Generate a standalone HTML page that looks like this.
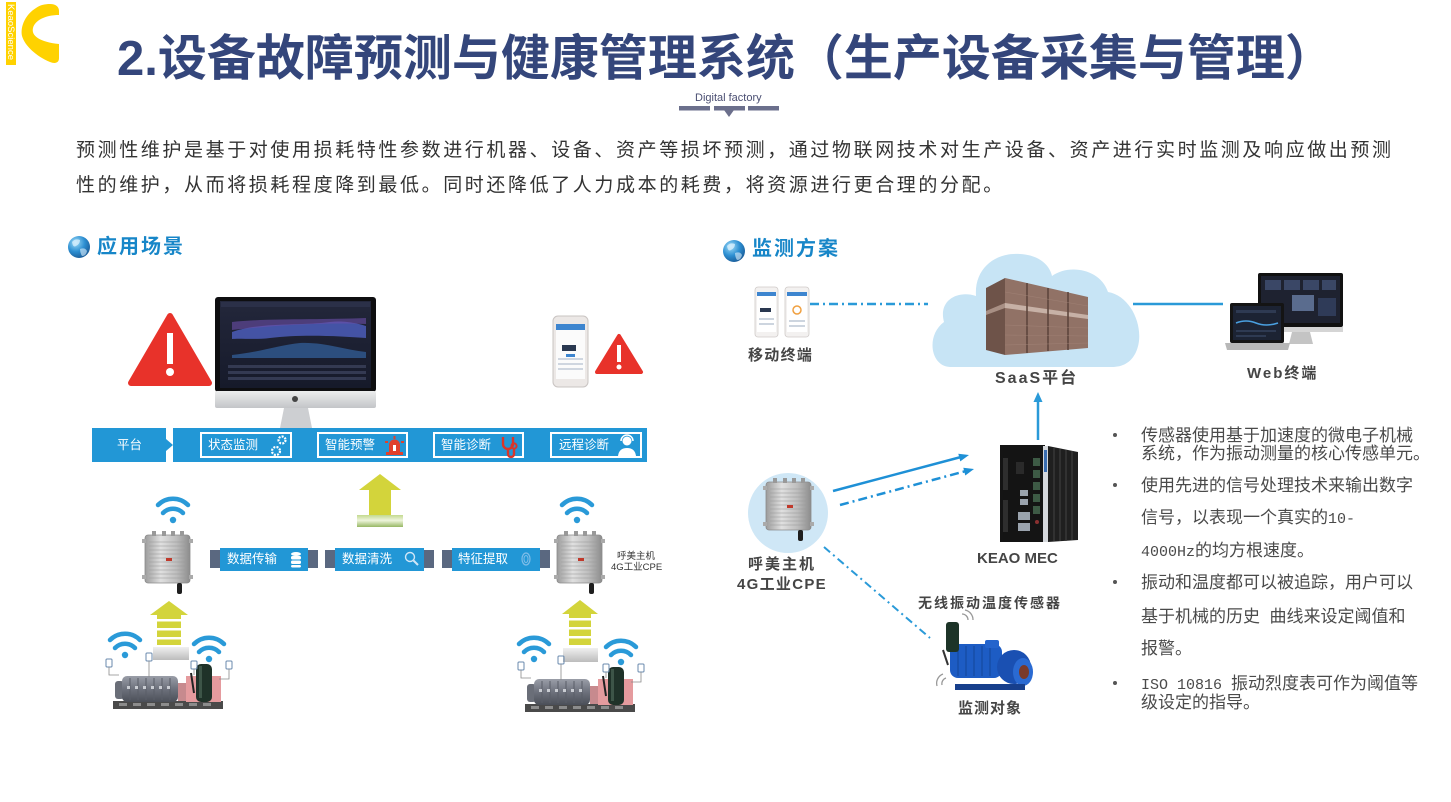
<!DOCTYPE html>
<html><head><meta charset="utf-8">
<style>
*{box-sizing:border-box}
body{margin:0;width:1451px;height:802px;background:#fff;position:relative;overflow:hidden;font-family:"Liberation Sans","Noto Sans CJK SC",sans-serif}
.t{position:absolute;white-space:nowrap;line-height:1}
.p{font-size:19px;letter-spacing:2.6px;color:#333;left:76px}
.h{font-size:20px;font-weight:700;color:#1786c8;letter-spacing:2px}
.w{color:#fff;font-size:12.5px}
.lb{font-weight:700;color:#454545}
.b{font-size:17px;color:#4a4a4a;left:1141px}
.m{font-family:"Liberation Mono",monospace;font-size:15px}
</style></head><body>

<svg width="1451" height="802" style="position:absolute;left:0;top:0">
<defs>
 <radialGradient id="gl" cx="0.35" cy="0.3" r="0.75"><stop offset="0" stop-color="#9fdcf8"/><stop offset="0.55" stop-color="#2d8fd2"/><stop offset="1" stop-color="#1a5c98"/></radialGradient>
 <linearGradient id="rg" x1="0" x2="1"><stop offset="0" stop-color="#9c9c9c"/><stop offset="0.35" stop-color="#e0e0e0"/><stop offset="0.7" stop-color="#bdbdbd"/><stop offset="1" stop-color="#8c8c8c"/></linearGradient>
 <linearGradient id="mg" x1="0" y1="0" x2="0" y2="1"><stop offset="0" stop-color="#9a9ea8"/><stop offset="0.5" stop-color="#6d717c"/><stop offset="1" stop-color="#4b4f58"/></linearGradient>
 <linearGradient id="cyl" x1="0" y1="0" x2="0" y2="1"><stop offset="0" stop-color="#c3d98f"/><stop offset="0.45" stop-color="#eef5dc"/><stop offset="1" stop-color="#98b865"/></linearGradient>
 <linearGradient id="gb" x1="0" y1="0" x2="0" y2="1"><stop offset="0" stop-color="#f0f0f0"/><stop offset="0.5" stop-color="#d6d6d6"/><stop offset="1" stop-color="#bcbcbc"/></linearGradient>
 <linearGradient id="chin" x1="0" y1="0" x2="0" y2="1"><stop offset="0" stop-color="#eceded"/><stop offset="1" stop-color="#c3c5c8"/></linearGradient>
 <linearGradient id="scr" x1="0" y1="0" x2="0" y2="1"><stop offset="0" stop-color="#23273b"/><stop offset="1" stop-color="#161a2a"/></linearGradient>
 <g id="globe"><circle r="11" fill="url(#gl)"/><path d="M-7,-5 q3,-4 8,-2 q0,4 -4,6 q-3,2 -4,-4z" fill="#dff2fd" opacity=".75"/><path d="M1,2 q5,-2 7,2 q-1,5 -5,5 q-2,-3 -2,-7z" fill="#dff2fd" opacity=".6"/></g>
 <g id="rtr">
  <rect x="1" y="4" width="45" height="48" rx="3" fill="url(#rg)" stroke="#8a8a8a" stroke-width="0.8"/>
  <g stroke="#9a9a9a" stroke-width="0.8" opacity="0.7">
   <line x1="5" y1="11" x2="42" y2="11"/><line x1="5" y1="15" x2="42" y2="15"/><line x1="5" y1="19" x2="42" y2="19"/><line x1="5" y1="23" x2="42" y2="23"/><line x1="5" y1="27" x2="42" y2="27"/><line x1="5" y1="31" x2="42" y2="31"/><line x1="5" y1="35" x2="42" y2="35"/><line x1="5" y1="39" x2="42" y2="39"/><line x1="5" y1="43" x2="42" y2="43"/><line x1="5" y1="47" x2="42" y2="47"/>
  </g>
  <rect x="8" y="0" width="4" height="5" fill="#999"/><rect x="18" y="0" width="4" height="5" fill="#999"/><rect x="27" y="0" width="4" height="5" fill="#999"/><rect x="36" y="0" width="4" height="5" fill="#999"/>
  <rect x="-2" y="8" width="4" height="4" fill="#aaa"/><rect x="45" y="8" width="4" height="4" fill="#aaa"/><rect x="-2" y="44" width="4" height="4" fill="#aaa"/><rect x="45" y="44" width="4" height="4" fill="#aaa"/>
  <rect x="22" y="27" width="6" height="3" fill="#c0392b"/>
  <rect x="33" y="52" width="5" height="11" rx="2" fill="#1e1e1e"/>
 </g>
 <g id="mach">
  <rect x="0" y="30" width="110" height="8" fill="#4a4a4a"/>
  <g fill="#8c8c8c"><rect x="6" y="32" width="8" height="3"/><rect x="20" y="32" width="8" height="3"/><rect x="34" y="32" width="8" height="3"/><rect x="48" y="32" width="8" height="3"/><rect x="62" y="32" width="8" height="3"/><rect x="76" y="32" width="8" height="3"/><rect x="90" y="32" width="8" height="3"/></g>
  <rect x="2" y="10" width="9" height="18" rx="3" fill="#6a6e78"/>
  <rect x="9" y="5" width="56" height="26" rx="5" fill="url(#mg)"/>
  <g stroke="#5a5e68" stroke-width="1"><line x1="17" y1="7" x2="17" y2="29"/><line x1="25" y1="7" x2="25" y2="29"/><line x1="33" y1="7" x2="33" y2="29"/><line x1="41" y1="7" x2="41" y2="29"/><line x1="49" y1="7" x2="49" y2="29"/><line x1="57" y1="7" x2="57" y2="29"/></g>
  <g fill="#c9ccd2"><rect x="14" y="15" width="3" height="3"/><rect x="22" y="15" width="3" height="3"/><rect x="30" y="15" width="3" height="3"/><rect x="38" y="15" width="3" height="3"/><rect x="46" y="15" width="3" height="3"/><rect x="54" y="15" width="3" height="3"/></g>
  <rect x="65" y="12" width="9" height="18" fill="#c78a8e"/>
  <rect x="73" y="5" width="35" height="26" fill="#e59b9e"/>
  <rect x="83" y="-7" width="16" height="38" rx="5" fill="#1f3229"/>
  <rect x="86" y="-5" width="3" height="32" fill="#3d5548"/>
  <line x1="78" y1="2" x2="81" y2="22" stroke="#222" stroke-width="2"/>
  <g fill="none" stroke="#6a8aae" stroke-width="1"><rect x="-7" y="-12" width="6" height="8" rx="1"/><rect x="33" y="-18" width="6" height="8" rx="1"/><rect x="78" y="-10" width="6" height="8" rx="1"/><rect x="113" y="-10" width="6" height="8" rx="1"/></g>
  <g fill="none" stroke="#8a8a8a" stroke-width="0.8"><path d="M-4,-4 v8 h10"/><path d="M36,-10 v16"/><path d="M81,-2 v6"/><path d="M116,-2 v10 h-10"/></g>
 </g>
</defs>

<!-- logo -->
<rect x="6" y="2" width="10" height="63" fill="#ffd200"/>
<text transform="translate(8,4) rotate(90)" font-size="9.5" fill="#fff" font-family="Liberation Sans">KeaoScience</text>
<path d="M50,4 C56,4 59,7 59,11 L59,15 C46,15 35,20 33,28 C31,36 40,42 59,44 L59,58 C59,63 55,64 50,62 C36,56 25,46 22,36 C20,26 26,14 36,8 C40,5 45,4 50,4 Z" fill="#ffd200"/>

<!-- digital factory bars -->
<rect x="679" y="106" width="31" height="4.5" fill="#6b6f8c"/>
<rect x="714" y="106" width="31" height="4.5" fill="#6b6f8c"/>
<rect x="748" y="106" width="31" height="4.5" fill="#6b6f8c"/>
<polygon points="724,110 734,110 729,117" fill="#6b6f8c"/>

<use href="#globe" x="79" y="247"/>
<use href="#globe" x="734" y="251"/>

<!-- ============ LEFT ============ -->
<path d="M170,316 L209,383 L131,383 Z" fill="#e8322a" stroke="#e8322a" stroke-width="6" stroke-linejoin="round"/>
<rect x="167" y="333" width="6" height="31" fill="#fff"/>
<circle cx="170" cy="372" r="4" fill="#fff"/>
<!-- monitor -->
<rect x="215" y="297" width="161" height="95" rx="3" fill="#0e0e10"/>
<rect x="220" y="301" width="151" height="87" fill="url(#scr)"/>
<rect x="221" y="302" width="149" height="5" fill="#2b3048"/>
<path d="M232,332 C260,322 300,326 330,322 C345,320 360,324 366,326 L366,338 C340,336 300,334 270,338 C255,340 240,338 232,339 Z" fill="#4b5cb8" opacity="0.85"/>
<path d="M232,322 C270,318 320,320 366,318 L366,324 C320,322 270,326 232,330 Z" fill="#6c4fa8" opacity="0.6"/>
<path d="M232,355 C260,352 280,345 300,343 C325,342 345,350 366,352 L366,358 L232,358 Z" fill="#2c4e7e"/>
<g fill="#343a52"><rect x="228" y="365" width="138" height="3"/><rect x="228" y="371" width="138" height="3"/><rect x="228" y="377" width="138" height="3"/></g>
<rect x="215" y="391" width="161" height="17" rx="2" fill="url(#chin)"/>
<circle cx="295" cy="399" r="3" fill="#444"/>
<polygon points="284,408 308,408 312,428 280,428" fill="#cdcfd2"/>
<!-- phone -->
<rect x="553" y="316" width="35" height="71" rx="5" fill="#ece8e6" stroke="#c9c4c2" stroke-width="1"/>
<rect x="556" y="324" width="29" height="55" fill="#fbfbfb"/>
<rect x="556" y="324" width="29" height="6" fill="#3d85cf"/>
<rect x="562" y="345" width="14" height="6" fill="#2a3850"/>
<g fill="#cfd6e0"><rect x="558" y="358" width="25" height="2"/><rect x="558" y="363" width="25" height="2"/><rect x="558" y="368" width="25" height="2"/></g>
<rect x="566" y="354" width="9" height="3" fill="#3d85cf"/>
<!-- small warning -->
<path d="M619,336 L641,372 L597,372 Z" fill="#e8322a" stroke="#e8322a" stroke-width="4" stroke-linejoin="round"/>
<rect x="617" y="345" width="4" height="17" fill="#fff"/>
<circle cx="619" cy="367" r="2.5" fill="#fff"/>

<!-- platform bar -->
<rect x="92" y="428" width="74" height="34" fill="#2297d6"/>
<polygon points="166,439 173,445 166,451" fill="#2297d6"/>
<rect x="173" y="428" width="474" height="34" fill="#2297d6"/>
<g fill="none" stroke="#fff" stroke-width="2">
 <rect x="201" y="433" width="90" height="24"/>
 <rect x="318" y="433" width="89" height="24"/>
 <rect x="434" y="433" width="89" height="24"/>
 <rect x="551" y="433" width="90" height="24"/>
</g>
<circle cx="282" cy="440" r="3.5" fill="none" stroke="#fff" stroke-width="2.2" stroke-dasharray="2 1.2"/>
<circle cx="276" cy="451" r="4" fill="none" stroke="#fff" stroke-width="2.2" stroke-dasharray="2 1.2"/>
<g fill="#e0402c"><rect x="386" y="452" width="17" height="3"/><path d="M389,452 v-7 a5.5,5.5 0 0 1 11,0 v7 z"/><rect x="393.5" y="436" width="2" height="3"/><rect x="385" y="441" width="3" height="2"/><rect x="401" y="441" width="3" height="2"/></g>
<rect x="393" y="445" width="3" height="6" fill="#fff"/>
<path d="M503,437 v7 a5,5 0 0 0 10,0 v-7 M508,449 v5 a3,3 0 0 0 6,0 v-6" fill="none" stroke="#d9362a" stroke-width="2.4"/>
<circle cx="514" cy="446" r="2.6" fill="none" stroke="#d9362a" stroke-width="2"/>
<circle cx="627" cy="441" r="4.5" fill="#fff"/>
<path d="M618,456 q1,-8 9,-8 q8,0 9,8 z" fill="#fff"/>
<path d="M621,441 a6,6 0 0 1 12,0" fill="none" stroke="#fff" stroke-width="1.5"/>

<!-- center yellow arrow -->
<polygon points="380,474 401,490 359,490" fill="#d3d43b"/>
<rect x="369" y="490" width="22" height="25" fill="#d3d43b"/>
<rect x="357" y="515" width="46" height="12" fill="url(#cyl)"/>

<!-- routers & wifi -->
<use href="#rtr" x="144" y="531"/>
<use href="#rtr" x="556" y="531"/>
<g fill="none" stroke="#2a9ad8" stroke-width="4.5" stroke-linecap="round">
 <path d="M163,513 a14,14 0 0 1 20,0"/><path d="M158,508 a21,21 0 0 1 30,0" transform="translate(0,-3)"/>
 <path d="M567,513 a14,14 0 0 1 20,0"/><path d="M562,508 a21,21 0 0 1 30,0" transform="translate(0,-3)"/>
 <path d="M115,648 a14,14 0 0 1 20,0"/><path d="M110,643 a21,21 0 0 1 30,0" transform="translate(0,-3)"/>
 <path d="M199,652 a14,14 0 0 1 20,0"/><path d="M194,647 a21,21 0 0 1 30,0" transform="translate(0,-3)"/>
 <path d="M524,652 a14,14 0 0 1 20,0"/><path d="M519,647 a21,21 0 0 1 30,0" transform="translate(0,-3)"/>
 <path d="M611,655 a14,14 0 0 1 20,0"/><path d="M606,650 a21,21 0 0 1 30,0" transform="translate(0,-3)"/>
</g>
<g fill="#2a9ad8"><circle cx="173" cy="520" r="3.2"/><circle cx="577" cy="520" r="3.2"/><circle cx="125" cy="655" r="3.2"/><circle cx="209" cy="659" r="3.2"/><circle cx="534" cy="659" r="3.2"/><circle cx="621" cy="662" r="3.2"/></g>

<!-- pipeline -->
<g fill="#5a6880">
 <rect x="210" y="550" width="10" height="18"/><rect x="308" y="550" width="10" height="18"/>
 <rect x="325" y="550" width="10" height="18"/><rect x="424" y="550" width="10" height="18"/>
 <rect x="442" y="550" width="10" height="18"/><rect x="540" y="550" width="10" height="18"/>
</g>
<g fill="#2297d6"><rect x="220" y="548" width="88" height="23"/><rect x="335" y="548" width="89" height="23"/><rect x="452" y="548" width="88" height="23"/></g>
<g fill="#fff"><ellipse cx="296" cy="554" rx="5" ry="2"/><rect x="291" y="556" width="10" height="3.5" rx="1.5"/><rect x="291" y="560.5" width="10" height="3.5" rx="1.5"/><rect x="291" y="565" width="10" height="2.5" rx="1.2"/></g>
<circle cx="410" cy="557" r="4.5" fill="none" stroke="#cfe6f7" stroke-width="1.4"/>
<line x1="413.5" y1="560.5" x2="418" y2="565" stroke="#cfe6f7" stroke-width="2"/>
<ellipse cx="526" cy="559" rx="4" ry="6" fill="none" stroke="#7fbde8" stroke-width="1.2"/>
<ellipse cx="526" cy="559" rx="2" ry="3.5" fill="none" stroke="#7fbde8" stroke-width="1"/>

<!-- striped arrows -->
<polygon points="169,601 188,615 150,615" fill="#d3d43b"/>
<rect x="157" y="615" width="24" height="30" fill="#d3d43b"/>
<g fill="#fff"><rect x="156" y="619" width="26" height="2.5"/><rect x="156" y="628" width="26" height="2.5"/><rect x="156" y="637" width="26" height="2.5"/></g>
<rect x="153" y="647" width="36" height="13" fill="url(#gb)"/>
<polygon points="580,600 598,614 562,614" fill="#d3d43b"/>
<rect x="569" y="614" width="22" height="31" fill="#d3d43b"/>
<g fill="#fff"><rect x="568" y="618" width="24" height="2.5"/><rect x="568" y="627" width="24" height="2.5"/><rect x="568" y="636" width="24" height="2.5"/></g>
<rect x="563" y="648" width="35" height="14" fill="url(#gb)"/>

<use href="#mach" x="113" y="671"/>
<use href="#mach" x="525" y="674"/>

<!-- ============ RIGHT ============ -->
<g>
 <rect x="755" y="287" width="23" height="50" rx="3" fill="#f3f1f0" stroke="#cfcac8" stroke-width="0.8"/>
 <rect x="757" y="292" width="19" height="40" fill="#fff"/><rect x="757" y="292" width="19" height="4" fill="#3d85cf"/>
 <rect x="760" y="308" width="11" height="4" fill="#2a3850"/><rect x="759" y="318" width="15" height="2" fill="#cdd5df"/><rect x="759" y="323" width="15" height="2" fill="#cdd5df"/>
 <rect x="785" y="287" width="24" height="50" rx="3" fill="#f3f1f0" stroke="#cfcac8" stroke-width="0.8"/>
 <rect x="787" y="292" width="20" height="40" fill="#fff"/><rect x="787" y="292" width="20" height="4" fill="#3d85cf"/>
 <circle cx="797" cy="310" r="4" fill="none" stroke="#f0a040" stroke-width="1.5"/><rect x="789" y="320" width="16" height="2" fill="#cdd5df"/><rect x="789" y="325" width="16" height="2" fill="#cdd5df"/>
</g>
<line x1="810" y1="304" x2="928" y2="304" stroke="#2a9ad8" stroke-width="2.5" stroke-dasharray="9 4 2 4"/>
<path d="M950,367 C930,366 926,335 944,322 C938,300 958,290 976,296 C974,268 996,252 1020,254 C1040,255 1050,266 1052,276 C1068,264 1100,268 1108,292 C1132,296 1146,330 1136,352 C1131,363 1122,367 1112,367 Z" fill="#c7e4f5"/>
<polygon points="986,288 1005,278 1005,355 986,350" fill="#6e5349"/>
<polygon points="1005,278 1088,297 1088,348 1005,355" fill="#917266"/>
<polygon points="1005,303 1088,315 1088,319 1005,308" fill="#c7b1a6"/>
<polygon points="986,311 1005,303 1005,308 986,315" fill="#a88f84"/>
<g stroke="#5e463d" stroke-width="1.6"><line x1="1027" y1="283" x2="1027" y2="353"/><line x1="1048" y1="288" x2="1048" y2="351"/><line x1="1068" y1="292" x2="1068" y2="350"/></g>
<g stroke="#a48579" stroke-width="0.6" opacity="0.7"><line x1="1005" y1="325" x2="1088" y2="328"/><line x1="1005" y1="335" x2="1088" y2="336"/><line x1="1005" y1="345" x2="1088" y2="343"/><line x1="1005" y1="292" x2="1088" y2="306"/></g>
<line x1="1133" y1="304" x2="1223" y2="304" stroke="#2a9ad8" stroke-width="2.5"/>
<rect x="1258" y="273" width="85" height="54" rx="2" fill="#111"/>
<rect x="1261" y="276" width="79" height="47" fill="#1e2230"/>
<g fill="#3a4766"><rect x="1265" y="280" width="16" height="10"/><rect x="1284" y="280" width="16" height="10"/><rect x="1303" y="280" width="16" height="10"/><rect x="1322" y="280" width="14" height="10"/></g>
<rect x="1292" y="295" width="22" height="16" fill="#5a6c8e"/><rect x="1318" y="298" width="18" height="18" fill="#2f3b58"/>
<rect x="1258" y="327" width="85" height="5" fill="#d5d5d5"/>
<polygon points="1292,332 1310,332 1313,344 1289,344" fill="#c4c4c4"/>
<rect x="1230" y="303" width="54" height="40" rx="2" fill="#141414"/>
<rect x="1233" y="306" width="48" height="34" fill="#1c2333"/>
<path d="M1236,323 q10,-4 20,0 t22,0" fill="none" stroke="#4aa0e0" stroke-width="1.5"/>
<g fill="#2e3a52"><rect x="1236" y="310" width="40" height="3"/><rect x="1236" y="330" width="40" height="2"/><rect x="1236" y="335" width="30" height="2"/></g>
<path d="M1225,343 L1290,343 L1288,350 L1227,350 Z" fill="#b8b8b8"/>

<line x1="1038" y1="440" x2="1038" y2="400" stroke="#2a9ad8" stroke-width="2.5"/>
<polygon points="1038,392 1033.5,402 1042.5,402" fill="#2a9ad8"/>

<rect x="1000" y="445" width="45" height="97" fill="#141414"/>
<rect x="1043" y="446" width="5" height="96" fill="#d5d8dc"/>
<rect x="1044" y="450" width="3" height="22" fill="#3a6db0"/>
<polygon points="1048,446 1078,452 1078,540 1048,542" fill="#1f1f1f"/>
<g stroke="#3e3e3e" stroke-width="1.2"><line x1="1054" y1="448" x2="1054" y2="541"/><line x1="1060" y1="449" x2="1060" y2="541"/><line x1="1066" y1="450" x2="1066" y2="541"/><line x1="1072" y1="451" x2="1072" y2="540"/></g>
<rect x="1003" y="458" width="5" height="32" fill="#2e2e2e"/><rect x="1003" y="500" width="5" height="32" fill="#2e2e2e"/>
<g fill="#3d5a45"><rect x="1033" y="458" width="7" height="8"/><rect x="1033" y="470" width="7" height="8"/><rect x="1033" y="482" width="7" height="8"/><rect x="1033" y="494" width="7" height="8"/><rect x="1033" y="506" width="7" height="8"/></g>
<g fill="#9aa3ad"><rect x="1020" y="490" width="8" height="6"/><rect x="1020" y="499" width="8" height="6"/><rect x="1018" y="512" width="12" height="8"/><rect x="1018" y="523" width="12" height="8"/></g>
<circle cx="1037" cy="522" r="2" fill="#8a3030"/>
<rect x="1016" y="462" width="8" height="12" fill="#2a2a2a"/>

<circle cx="788" cy="513" r="40" fill="#cfe7f6"/>
<use href="#rtr" x="765" y="478"/>

<line x1="833" y1="491" x2="961" y2="457" stroke="#1e90d6" stroke-width="2.5"/>
<polygon points="969,455 960.3,461.4 958.3,453.7" fill="#1e90d6"/>
<line x1="840" y1="505" x2="966" y2="471" stroke="#1e90d6" stroke-width="2.5" stroke-dasharray="9 4 2 4"/>
<polygon points="974,469 965.3,475.5 963.3,467.7" fill="#1e90d6"/>
<line x1="824" y1="547" x2="930" y2="638" stroke="#2a9ad8" stroke-width="2" stroke-dasharray="8 4 2 4"/>

<path d="M962,614 a6,6 0 0 1 6,6 M965,610 a10,10 0 0 1 8,10" fill="none" stroke="#999" stroke-width="1.3"/>
<path d="M946,678 a6,6 0 0 0 -4,7 M943,674 a10,10 0 0 0 -6,12" fill="none" stroke="#999" stroke-width="1.3"/>
<rect x="950" y="644" width="52" height="34" rx="8" fill="#1d5cc4"/>
<g stroke="#164aa0" stroke-width="1.2"><line x1="958" y1="646" x2="958" y2="676"/><line x1="966" y1="646" x2="966" y2="676"/><line x1="974" y1="646" x2="974" y2="676"/><line x1="982" y1="646" x2="982" y2="676"/><line x1="990" y1="646" x2="990" y2="676"/></g>
<rect x="985" y="640" width="14" height="8" rx="2" fill="#2464cc"/>
<circle cx="1014" cy="667" r="17" fill="#1a50b2"/>
<ellipse cx="1023" cy="672" rx="10" ry="14" fill="#2a6ad2"/>
<ellipse cx="1024" cy="672" rx="5" ry="7" fill="#7a3a2a"/>
<rect x="955" y="684" width="70" height="6" fill="#173f8c"/>
<rect x="946" y="622" width="13" height="30" rx="3" fill="#1d3428"/>
<line x1="943" y1="650" x2="948" y2="665" stroke="#333" stroke-width="2"/>
</svg>

<!-- TEXT -->
<div class="t" style="left:117px;top:35px;font-size:49px;font-weight:700;color:#34467b">2.设备故障预测与健康管理系统（生产设备采集与管理）</div>
<div class="t" style="left:695px;top:93px;font-size:11px;color:#4a4e72">Digital factory</div>

<div class="t p" style="top:141px">预测性维护是基于对使用损耗特性参数进行机器、设备、资产等损坏预测，通过物联网技术对生产设备、资产进行实时监测及响应做出预测</div>
<div class="t p" style="top:176px">性的维护，从而将损耗程度降到最低。同时还降低了人力成本的耗费，将资源进行更合理的分配。</div>

<div class="t h" style="left:97px;top:237px">应用场景</div>
<div class="t h" style="left:752px;top:239px">监测方案</div>

<div class="t w" style="left:117px;top:439px">平台</div>
<div class="t w" style="left:208px;top:439px">状态监测</div>
<div class="t w" style="left:325px;top:439px">智能预警</div>
<div class="t w" style="left:441px;top:439px">智能诊断</div>
<div class="t w" style="left:559px;top:439px">远程诊断</div>

<div class="t w" style="left:227px;top:553px">数据传输</div>
<div class="t w" style="left:342px;top:553px">数据清洗</div>
<div class="t w" style="left:458px;top:553px">特征提取</div>

<div class="t" style="left:617px;top:552px;font-size:9.5px;color:#333">呼美主机</div>
<div class="t" style="left:611px;top:563px;font-size:9.5px;color:#333">4G工业CPE</div>

<div class="t lb" style="left:748px;top:348px;font-size:15px;letter-spacing:1.3px">移动终端</div>
<div class="t lb" style="left:995px;top:371px;font-size:16px;letter-spacing:2px">SaaS平台</div>
<div class="t lb" style="left:1247px;top:366px;font-size:15px;letter-spacing:2px">Web终端</div>
<div class="t lb" style="left:977px;top:551px;font-size:15px">KEAO MEC</div>
<div class="t lb" style="left:748px;top:557px;font-size:15px;letter-spacing:2px">呼美主机</div>
<div class="t lb" style="left:737px;top:577px;font-size:15px;letter-spacing:1.3px">4G工业CPE</div>
<div class="t lb" style="left:918px;top:596px;font-size:14px;letter-spacing:2px">无线振动温度传感器</div>
<div class="t lb" style="left:958px;top:701px;font-size:15px;letter-spacing:1px">监测对象</div>

<svg width="10" height="300" style="position:absolute;left:1110px;top:420px">
 <circle cx="5" cy="15" r="2" fill="#555"/><circle cx="5" cy="65" r="2" fill="#555"/><circle cx="5" cy="162" r="2" fill="#555"/><circle cx="5" cy="263" r="2" fill="#555"/>
</svg>
<div class="t b" style="top:427px">传感器使用基于加速度的微电子机械</div>
<div class="t b" style="top:445px">系统，作为振动测量的核心传感单元。</div>
<div class="t b" style="top:477px">使用先进的信号处理技术来输出数字</div>
<div class="t b" style="top:509px">信号，以表现一个真实的<span class="m">10-</span></div>
<div class="t b" style="top:542px"><span class="m">4000Hz</span>的均方根速度。</div>
<div class="t b" style="top:574px">振动和温度都可以被追踪，用户可以</div>
<div class="t b" style="top:608px">基于机械的历史&nbsp;&nbsp;曲线来设定阈值和</div>
<div class="t b" style="top:640px">报警。</div>
<div class="t b" style="top:675px"><span class="m">ISO 10816 </span>振动烈度表可作为阈值等</div>
<div class="t b" style="top:694px">级设定的指导。</div>

</body></html>
